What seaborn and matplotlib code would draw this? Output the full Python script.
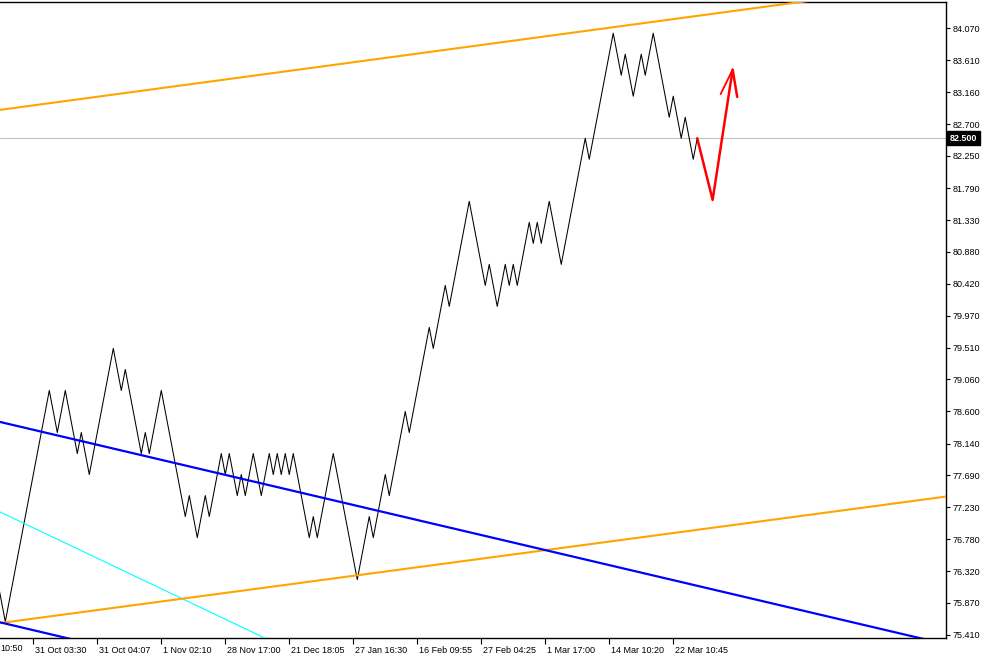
import matplotlib
matplotlib.use("Agg")
import matplotlib.pyplot as plt
import matplotlib.transforms as mtransforms
import seaborn as sns

# Dados do gráfico (barras e preços dos pontos de reversão)
bars = [5, 9, 20, 22, 24, 27, 28, 30, 36, 38,
        39, 43, 44, 45, 48, 54, 55, 57, 59, 60,
        63, 64, 65, 67, 68, 69, 71, 73, 75, 76,
        77, 78, 79, 80, 81, 85, 86, 87, 91, 97,
        100, 101, 104, 105, 109, 110, 115, 116, 119, 120,
        125, 129, 130, 132, 134, 135, 136, 137, 140, 141,
        142, 143, 145, 148, 154, 155, 161, 163, 164, 166,
        168, 169, 171, 175, 176, 178, 179, 181, 182]
prices = [76.80, 75.60, 78.90, 78.30, 78.90, 78.00, 78.30, 77.70, 79.50, 78.90,
          79.20, 78.00, 78.30, 78.00, 78.90, 77.10, 77.40, 76.80, 77.40, 77.10,
          78.00, 77.70, 78.00, 77.40, 77.70, 77.40, 78.00, 77.40, 78.00, 77.70,
          78.00, 77.70, 78.00, 77.70, 78.00, 76.80, 77.10, 76.80, 78.00, 76.20,
          77.10, 76.80, 77.70, 77.40, 78.60, 78.30, 79.80, 79.50, 80.40, 80.10,
          81.60, 80.40, 80.70, 80.10, 80.70, 80.40, 80.70, 80.40, 81.30, 81.00,
          81.30, 81.00, 81.60, 80.70, 82.50, 82.20, 84.00, 83.40, 83.70, 83.10,
          83.70, 83.40, 84.00, 82.80, 83.10, 82.50, 82.80, 82.20, 82.50]

# Linhas de tendência (dois pontos cada)
orange_up_x, orange_up_y = [7, 250], [82.90, 84.77]
orange_low_x, orange_low_y = [7, 250], [75.575, 77.43]
blue_x, blue_y = [7, 250], [78.46, 75.20]
blue_low_x, blue_low_y = [7, 30], [75.60, 75.29]
cyan_x, cyan_y = [7, 80], [77.185, 75.20]

# Seta de previsão (vermelha)
arrow_x = [182, 185.85, 190.85, 192.0]
arrow_y = [82.50, 81.62, 83.48, 83.09]
barb_x = [187.85, 190.85]
barb_y = [83.13, 83.48]

current_price = 82.50

# Eixos
xtick_pos = [16, 32, 48, 64, 80, 96, 112, 128, 144, 160, 176]
xtick_labels = ["31 Oct 03:30", "31 Oct 04:07", "1 Nov 02:10", "28 Nov 17:00",
                "21 Dec 18:05", "27 Jan 16:30", "16 Feb 09:55", "27 Feb 04:25",
                "1 Mar 17:00", "14 Mar 10:20", "22 Mar 10:45"]
first_label = "10:50"
ytick_pos = [75.41, 75.87, 76.32, 76.78, 77.23, 77.69, 78.14, 78.60, 79.06, 79.51,
             79.97, 80.42, 80.88, 81.33, 81.79, 82.25, 82.70, 83.16, 83.61, 84.07]

sns.set_style("white")
plt.rcParams['font.family'] = ['Liberation Sans', 'DejaVu Sans']
fs = 6.5

fig = plt.figure(figsize=(9.84, 6.55), dpi=100)
ax = fig.add_axes([0, 17 / 655, 946 / 984, 636 / 655])

ax.axhline(current_price, color='#c0c0c0', lw=0.8, zorder=1)

sns.lineplot(x=bars, y=prices, sort=False, estimator=None, color='black', lw=0.75, ax=ax, zorder=2)
sns.lineplot(x=cyan_x, y=cyan_y, sort=False, estimator=None, color='#00FFFF', lw=0.8, ax=ax, zorder=3)
sns.lineplot(x=orange_up_x, y=orange_up_y, sort=False, estimator=None, color='#FFA500', lw=1.5, ax=ax, zorder=3)
sns.lineplot(x=orange_low_x, y=orange_low_y, sort=False, estimator=None, color='#FFA500', lw=1.5, ax=ax, zorder=3)
sns.lineplot(x=blue_x, y=blue_y, sort=False, estimator=None, color='#0000FF', lw=1.6, ax=ax, zorder=4)
sns.lineplot(x=blue_low_x, y=blue_low_y, sort=False, estimator=None, color='#0000FF', lw=1.6, ax=ax, zorder=4)
sns.lineplot(x=arrow_x, y=arrow_y, sort=False, estimator=None, color='#FF0000', lw=1.8, ax=ax, zorder=5)
sns.lineplot(x=barb_x, y=barb_y, sort=False, estimator=None, color='#FF0000', lw=1.3, ax=ax, zorder=5)

ax.set_xlim(7.675, 244.2)
ax.set_ylim(75.367, 84.445)

for side in ['top', 'right', 'bottom']:
    ax.spines[side].set_color('black')
    ax.spines[side].set_linewidth(1.0)
ax.spines['left'].set_visible(False)

ax.yaxis.tick_right()
ax.set_yticks(ytick_pos)
ax.set_yticklabels([f"{v:.3f}" for v in ytick_pos])
ax.tick_params(axis='y', direction='out', length=3, width=0.8, pad=2, labelsize=fs,
               colors='black', right=True, left=False)

ax.set_xticks(xtick_pos)
ax.set_xticklabels(xtick_labels)
ax.tick_params(axis='x', direction='out', length=4, width=0.8, pad=1.5, labelsize=fs,
               colors='black', bottom=True)
offset = mtransforms.ScaledTranslation(2 / 100, 0, fig.dpi_scale_trans)
for lab in ax.get_xticklabels():
    lab.set_horizontalalignment('left')
    lab.set_transform(lab.get_transform() + offset)

ax.set_xlabel('')
ax.set_ylabel('')
ax.grid(False)

# rótulo cortado à esquerda
ax.text(0.0, -0.009, first_label, transform=ax.transAxes, ha='left', va='top',
        fontsize=fs, color='black')

# caixa do preço atual
ax.annotate(f"{current_price:.3f}", xy=(1.0, current_price),
            xycoords=('axes fraction', 'data'), xytext=(2.5, 0), textcoords='offset points',
            ha='left', va='center', fontsize=fs, color='white', fontweight='bold',
            bbox=dict(boxstyle='square,pad=0.3', fc='black', ec='black'))

plt.savefig("out.png", dpi=100)
